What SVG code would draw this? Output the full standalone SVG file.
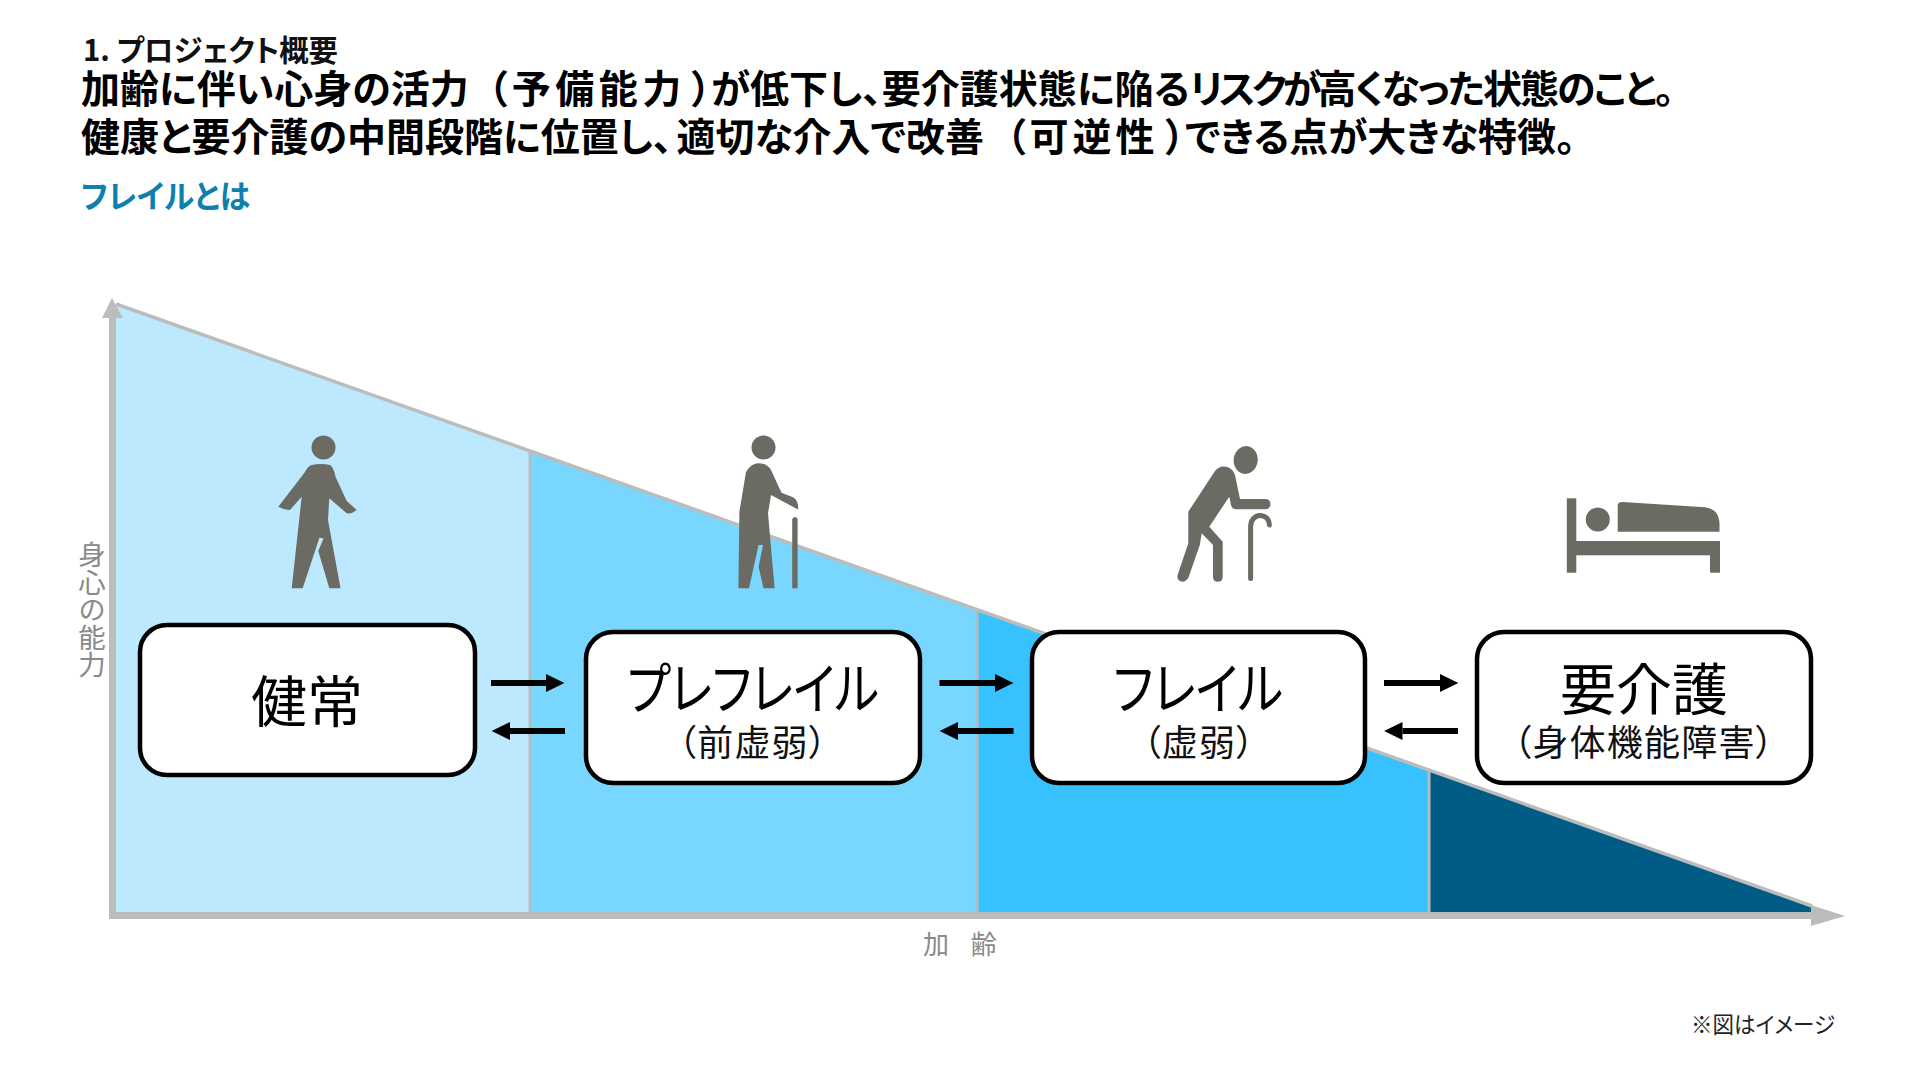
<svg xmlns="http://www.w3.org/2000/svg" width="1920" height="1080" viewBox="0 0 1920 1080">
<defs>
<style>
text{font-family:"Noto Sans CJK JP","Noto Sans",sans-serif;font-feature-settings:"palt";}
.h{font-size:39px;font-weight:700;fill:#000;}
.box{fill:#fff;stroke:#000;stroke-width:4.5;}
.big{font-size:56px;fill:#000;text-anchor:middle;}
.sub{font-size:36px;fill:#111;text-anchor:middle;letter-spacing:1.2px;}
.ax{font-size:27.5px;fill:#8a8a8a;}
.ic{fill:#6b6b64;}
.div{stroke:#b4bcbf;stroke-width:3;}
.arr{stroke:#000;stroke-width:6;marker-end:url(#ah);}
</style>
<marker id="ah" markerUnits="userSpaceOnUse" markerWidth="20" markerHeight="20" refX="0" refY="10" orient="auto"><path d="M0,1 L18.4,10 L0,19 Z" fill="#000"/></marker>
</defs>
<rect width="1920" height="1080" fill="#fff"/>
<text x="83" y="61" font-size="30" font-weight="700" fill="#111" textLength="255" lengthAdjust="spacingAndGlyphs">1. プロジェクト概要</text>
<text class="h" x="81" y="103">加齢に伴い心身の活力<tspan dx="19" letter-spacing="4.5">（予備能力</tspan><tspan dx="6">）</tspan>が低下し、要介護状態に陥る<tspan letter-spacing="-4">リスクが</tspan><tspan letter-spacing="-2">高くなった状態のこと。</tspan></text>
<text class="h" x="81" y="151">健康と要介護の中間段階に位置し、<tspan dx="4">適切な介入で改善</tspan><tspan dx="22" letter-spacing="4">（可逆性</tspan><tspan dx="7">）</tspan>できる点が大きな特徴。</text>
<text x="81" y="208" font-size="32" font-weight="700" fill="#0f7fad" textLength="169" lengthAdjust="spacingAndGlyphs">フレイルとは</text>

<g id="chart">
<polygon points="116,305 530,452 530,915 116,915" fill="#bde9ff"/>
<polygon points="530,452 977,611 977,915 530,915" fill="#79d6ff"/>
<polygon points="977,611 1429,771 1429,915 977,915" fill="#38c1ff"/>
<polygon points="1429,771 1811,907 1811,915 1429,915" fill="#005c85"/>
<line class="div" x1="530" y1="452" x2="530" y2="913"/>
<line class="div" x1="977" y1="611" x2="977" y2="913"/>
<line class="div" x1="1429" y1="771" x2="1429" y2="913"/>
<line x1="116" y1="304" x2="1812" y2="906" stroke="#bbbdbc" stroke-width="3.5"/>
<rect x="109" y="318" width="7" height="601" fill="#bbbdbc"/>
<polygon points="112,298 123,318 102,318" fill="#bbbdbc"/>
<rect x="109" y="912" width="1703" height="7" fill="#bbbdbc"/>
<polygon points="1811,905 1845,916 1811,926" fill="#bbbdbc"/>
<text class="ax" x="92" y="541" style="writing-mode:vertical-rl;text-orientation:upright">身心の能力</text>
<text class="ax" x="923" y="954" style="word-spacing:16px;font-size:26px">加 齢</text>
</g>

<g id="icon-walker" class="ic">
<circle cx="323.5" cy="447.5" r="12"/>
<path d="M311.7,465 Q321,463 330,465 Q334,468 335.5,476.7 L346.7,501 L356.7,510 Q352,514 346.7,513.3 L329.3,498.3 L328,520 L340.5,588.3 L329.3,588.3 L318.3,551 L323.5,538.5 L319.5,537.5 L302.7,588.3 L291.7,588.3 L301.7,496.7 L290,510 Q284,510 278.3,506.7 L305,472 Q308,466 311.7,465 Z"/>
</g>
<g id="icon-cane" class="ic">
<circle cx="763.5" cy="447.5" r="12"/>
<path d="M758.6,463.3 Q767,463.3 771,470 L781.5,492.7 L793,497.3 Q799,501 798,509.5 L771,495 L768,513.3 L774.6,588.3 L763.5,588.3 L758.6,566.7 L763,545 L758.6,545 L749,588.3 L738.4,588.3 L739.4,511.7 L746,472 Q751,463.3 758.6,463.3 Z"/>
<path d="M792.2,519 Q795,515 797.6,519 V588.3 H792.2 Z"/>
</g>
<g id="icon-bent" class="ic">
<ellipse cx="1245.7" cy="460" rx="12" ry="14" transform="rotate(8 1245.7 460)"/>
<path d="M1222.7,466.5 Q1232,466 1235,475 L1240,499 H1264.8 Q1270.5,499 1270.5,504 Q1270.5,509.3 1264.8,509.3 H1236 Q1232,509 1231,505 L1229.2,496.7 L1209.3,526.7 L1222.7,541.7 V576.7 Q1222.7,581.7 1218,581.7 Q1213,581.7 1213,576.7 V545 L1201.7,533.3 L1199.8,545 L1188.3,578 Q1186,581.7 1182,581.7 Q1176.5,581 1177.6,575 L1188.3,543.3 V511.7 L1215,471 Q1218,467 1222.7,466.5 Z"/>
<path d="M1250.6,578.5 V527 C1250.6,512 1269,512 1269.4,525" fill="none" stroke="#6b6b64" stroke-width="5" stroke-linecap="round"/>
</g>
<g id="icon-bed" class="ic">
<rect x="1566.8" y="498.3" width="9.5" height="74.4"/>
<rect x="1576" y="541" width="144" height="14.3"/>
<rect x="1710" y="541" width="10" height="31.7"/>
<circle cx="1597.8" cy="519.5" r="12"/>
<path d="M1617.7,531.7 V505 Q1618,502 1622.6,502 L1705,507.3 Q1719.5,509 1719.5,525 V531.7 Z"/>
</g>

<g id="connectors">
<line class="arr" x1="491" y1="683" x2="546" y2="683"/>
<line class="arr" x1="565" y1="731" x2="510" y2="731"/>
<line class="arr" x1="939.5" y1="683" x2="995" y2="683"/>
<line class="arr" x1="1013.5" y1="731" x2="958" y2="731"/>
<line class="arr" x1="1384" y1="683" x2="1440" y2="683"/>
<line class="arr" x1="1458" y1="731" x2="1402.5" y2="731"/>
</g>

<g id="node-kenjo">
<rect class="box" x="140" y="625" width="335" height="150" rx="27"/>
<text class="big" x="307" y="722">健常</text>
</g>
<g id="node-prefrail">
<rect class="box" x="586" y="632" width="334" height="151" rx="27"/>
<text class="big" x="627" y="709" style="text-anchor:start" textLength="252" lengthAdjust="spacingAndGlyphs">プレフレイル</text>
<text class="sub" x="753" y="756">（前虚弱）</text>
</g>
<g id="node-frail">
<rect class="box" x="1032" y="632" width="333" height="151" rx="27"/>
<text class="big" x="1113" y="709" style="text-anchor:start" textLength="170" lengthAdjust="spacingAndGlyphs">フレイル</text>
<text class="sub" x="1199" y="756">（虚弱）</text>
</g>
<g id="node-care">
<rect class="box" x="1477" y="632" width="334" height="151" rx="27"/>
<text class="big" x="1644" y="710">要介護</text>
<text class="sub" x="1644" y="756">（身体機能障害）</text>
</g>
<text x="1691" y="1033" font-size="22.5" fill="#222" textLength="144" lengthAdjust="spacingAndGlyphs">※図はイメージ</text>
</svg>
